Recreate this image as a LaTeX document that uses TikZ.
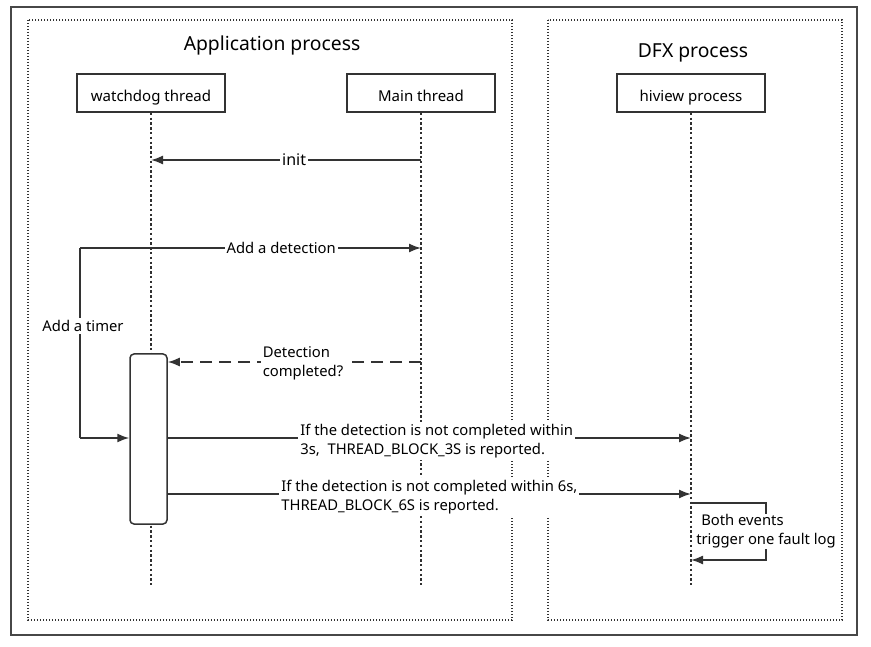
\documentclass[tikz,border=0pt]{standalone}
\usepackage{fontspec}
\setmainfont{Noto Sans}
\usepackage{tikz}
\usetikzlibrary{arrows.meta,positioning}
\definecolor{ink}{HTML}{333333}
\tikzstyle{head}=[rectangle, draw=ink, line width=1.5pt, minimum width=148pt, minimum height=38pt, text height=20pt, text depth=3pt, font=\fontsize{15}{17}\selectfont]
\tikzstyle{ptitle}=[font=\fontsize{19.3}{22}\selectfont]
\tikzstyle{proc}=[draw=ink, line width=1.2pt, dash pattern=on 1.3pt off 1.7pt]
\tikzstyle{life}=[draw=ink!95!black, line width=2.8pt, dash pattern=on 2.4pt off 2.4pt]
\tikzstyle{act}=[rectangle, draw=ink, fill=white, line width=1.5pt, rounded corners=4pt, minimum width=37pt, minimum height=170pt]
\tikzstyle{msg}=[draw=ink, line width=1.6pt, -{Latex[length=12pt,width=9pt]}]
\tikzstyle{lbl}=[fill=white, inner sep=2pt, font=\fontsize{14.8}{19}\selectfont]

\begin{document}
\begin{tikzpicture}[x=1pt,y=-1pt]
\useasboundingbox (0,0) rectangle (871,647);
%Frames
\draw[ink!90, line width=1.6pt] (11,7) rectangle (857,635);
\draw[proc] (28,20) rectangle (512,620);
\draw[proc] (548,20) rectangle (842,620);
%Titles
\node[ptitle] (tapp) at (272,45){Application process};
\node[ptitle] (tdfx) at (693,53){DFX process};
%Heads
\node[head] (wd) at (151,93){watchdog thread};
\node[head] (mt) at (421,93){Main thread};
\node[head] (hv) at (691,93){hiview process};
%Lifelines
\coordinate (wdend) at (151,585);
\coordinate (mtend) at (421,585);
\coordinate (hvend) at (691,585);
\draw[life] (wd.south) -- (wdend);
\draw[life] (mt.south) -- (mtend);
\draw[life] (hv.south) -- (hvend);
\node[act] (tmr) at (148.5,439){};
%Messages
\coordinate (init) at (421,160);
\draw[msg] (init) -- node[lbl,pos=0.47,font=\fontsize{16}{18}\selectfont]{init} (wd.south |- init);
\coordinate (c1) at (80,248);
\coordinate (c2) at (80,438);
\coordinate (det) at (421,248);
\draw[msg] (c1) -- node[lbl,pos=0.59]{Add a detection} (det);
\draw[msg,-] (c1) -- node[lbl,pos=0.41,xshift=3pt]{Add a timer} (c2);
\draw[msg] (c2) -- (c2 -| tmr.west);
\coordinate (done) at (421,362);
\draw[msg,dash pattern=on 12pt off 7pt] (done) -- node[lbl,pos=0.466,align=left,yshift=-1.5pt]{Detection\\completed?} (done -| tmr.east);
\coordinate (r3) at (691,438);
\draw[msg] (r3 -| tmr.east) -- node[lbl,pos=0.514,align=left,yshift=-3pt]{If the detection is not completed within\\3s,\ \ THREAD\_BLOCK\_3S is reported.} (r3);
\coordinate (r6) at (691,494);
\draw[msg] (r6 -| tmr.east) -- node[lbl,pos=0.5,align=left,yshift=-3pt]{If the detection is not completed within 6s,\\THREAD\_BLOCK\_6S is reported.} (r6);
\coordinate (s1) at (691,503);
\coordinate (s2) at (766,503);
\coordinate (s3) at (766,560);
\coordinate (s4) at (691,560);
\draw[msg] (s1) -- (s2) -- node[lbl,align=left,inner sep=1pt]{\hspace{5pt}Both events\\trigger one fault log} (s3) -- (s4);
\end{tikzpicture}
\end{document}
